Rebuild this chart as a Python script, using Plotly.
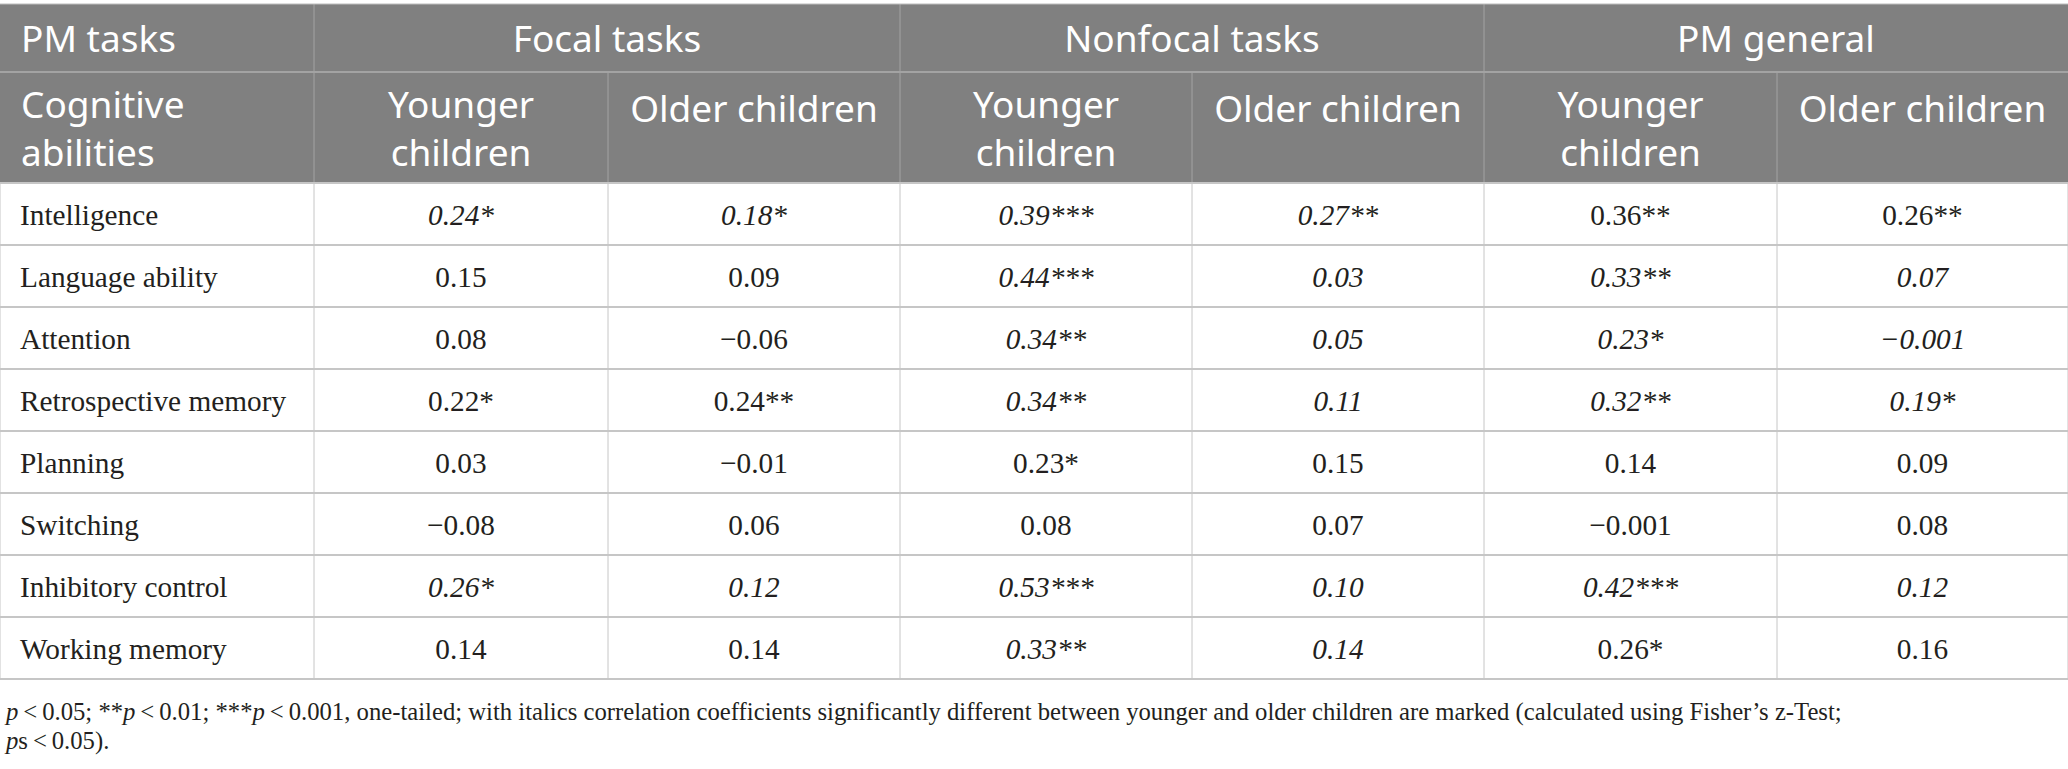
import plotly.graph_objects as go

abilities = ["Intelligence", "Language ability", "Attention", "Retrospective memory",
             "Planning", "Switching", "Inhibitory control", "Working memory"]
task_groups = ["Focal tasks", "Nonfocal tasks", "PM general"]
age_groups = ["Younger<br>children", "Older children"]
corner_top = "PM tasks"
corner_bottom = "Cognitive<br>abilities"

focal_younger = ["0.24*", "0.15", "0.08", "0.22*", "0.03", "\u22120.08", "0.26*", "0.14"]
focal_older = ["0.18*", "0.09", "\u22120.06", "0.24**", "\u22120.01", "0.06", "0.12", "0.14"]
nonfocal_younger = ["0.39***", "0.44***", "0.34**", "0.34**", "0.23*", "0.08", "0.53***", "0.33**"]
nonfocal_older = ["0.27**", "0.03", "0.05", "0.11", "0.15", "0.07", "0.10", "0.14"]
general_younger = ["0.36**", "0.33**", "0.23*", "0.32**", "0.14", "\u22120.001", "0.42***", "0.26*"]
general_older = ["0.26**", "0.07", "\u22120.001", "0.19*", "0.09", "0.08", "0.12", "0.16"]

# 1 = younger vs older significantly different (set in italics)
focal_diff = [1, 0, 0, 0, 0, 0, 1, 0]
nonfocal_diff = [1, 1, 1, 1, 0, 0, 1, 1]
general_diff = [0, 1, 1, 1, 0, 0, 1, 0]

footnote_lines = [
    "<i>p</i>\u2009<\u20090.05; **<i>p</i>\u2009<\u20090.01; ***<i>p</i>\u2009<\u20090.001, one-tailed; "
    "with italics correlation coefficients significantly different between younger and older children "
    "are marked (calculated using Fisher\u2019s z-Test;",
    "<i>p</i>s\u2009<\u20090.05).",
]

# ---- layout (pixels) ----
W, H = 2068, 769
col_w = [314, 294, 292, 292, 292, 293, 291]
top, h1, h2, row_h = 4, 68, 111, 62
HEAD_BG = "#808080"
HEAD_LINE = "#a3a3a3"
GRID = "#c6c6c6"
TXT = "#231f20"
SANS = "Noto Sans"
SERIF = "Liberation Serif"

xe = [0]
for w in col_w:
    xe.append(xe[-1] + w)
xc = [(xe[i] + xe[i + 1]) / 2 for i in range(len(col_w))]
y_h2 = top + h1
y_body = y_h2 + h2
ye = [y_body + i * row_h for i in range(len(abilities) + 1)]
yc = [(ye[i] + ye[i + 1]) / 2 + 4 for i in range(len(abilities))]

shapes = []
shapes.append(dict(type="rect", x0=0, x1=W, y0=top, y1=y_body, fillcolor=HEAD_BG,
                   line=dict(width=0), layer="below"))
shapes.append(dict(type="line", x0=0, x1=W, y0=y_h2, y1=y_h2, line=dict(color=HEAD_LINE, width=2)))
for g in range(len(task_groups)):
    x = xe[1 + 2 * g]
    shapes.append(dict(type="line", x0=x, x1=x, y0=top, y1=y_h2, line=dict(color=HEAD_LINE, width=1)))
for x in xe[1:-1]:
    shapes.append(dict(type="line", x0=x, x1=x, y0=y_h2, y1=y_body, line=dict(color=HEAD_LINE, width=1)))
for y in ye:
    shapes.append(dict(type="line", x0=0, x1=W, y0=y, y1=y, line=dict(color=GRID, width=2)))
for x in xe:
    shapes.append(dict(type="line", x0=x, x1=x, y0=y_body, y1=ye[-1], line=dict(color=GRID, width=1)))
shapes.append(dict(type="line", x0=0, x1=W, y0=top, y1=top, line=dict(color="#bdbdbd", width=1)))

fig = go.Figure()

# header texts
hx, hy, ht = [], [], []
for g, name in enumerate(task_groups):
    hx.append((xe[1 + 2 * g] + xe[3 + 2 * g]) / 2)
    hy.append(top + h1 / 2 + 5)
    ht.append(name)
for g in range(len(task_groups)):
    for a, label in enumerate(age_groups):
        hx.append(xc[1 + 2 * g + a])
        if "<br>" in label:
            hy.append(y_h2 + 61)
        else:
            hy.append(y_h2 + 41)
        ht.append(label)
fig.add_trace(go.Scatter(x=hx, y=hy, text=ht, mode="text", textposition="middle center",
                         textfont=dict(family=SANS, size=37, color="white"), hoverinfo="skip"))

fig.add_trace(go.Scatter(x=[21, 21], y=[top + h1 / 2 + 5, y_h2 + 61], text=[corner_top, corner_bottom],
                         mode="text", textposition="middle right",
                         textfont=dict(family=SANS, size=37, color="white"), hoverinfo="skip"))

# row labels
fig.add_trace(go.Scatter(x=[20] * len(abilities), y=yc, text=abilities, mode="text",
                         textposition="middle right",
                         textfont=dict(family=SERIF, size=29.3, color=TXT), hoverinfo="skip"))

# values
columns = [focal_younger, focal_older, nonfocal_younger, nonfocal_older, general_younger, general_older]
diffs = [focal_diff, focal_diff, nonfocal_diff, nonfocal_diff, general_diff, general_diff]
vx, vy, vt = [], [], []
for c, (vals, d) in enumerate(zip(columns, diffs)):
    for r, v in enumerate(vals):
        vx.append(xc[c + 1])
        vy.append(yc[r])
        vt.append(f"<i>{v}</i>" if d[r] else v)
fig.add_trace(go.Scatter(x=vx, y=vy, text=vt, mode="text", textposition="middle center",
                         textfont=dict(family=SERIF, size=29.3, color=TXT), hoverinfo="skip"))

# footnote
for k, line in enumerate(footnote_lines):
    fig.add_annotation(x=2, y=712 + k * 29, text=line, showarrow=False, xanchor="left", yanchor="middle",
                       font=dict(family=SERIF, size=24.7, color=TXT))

fig.update_layout(width=W, height=H, margin=dict(l=0, r=0, t=0, b=0),
                  paper_bgcolor="white", plot_bgcolor="white", showlegend=False, shapes=shapes,
                  xaxis=dict(range=[0, W], visible=False, fixedrange=True),
                  yaxis=dict(range=[H, 0], visible=False, fixedrange=True))
fig.write_html("out.html", config={"displayModeBar": False},
               post_script="document.body.style.margin='0';")
